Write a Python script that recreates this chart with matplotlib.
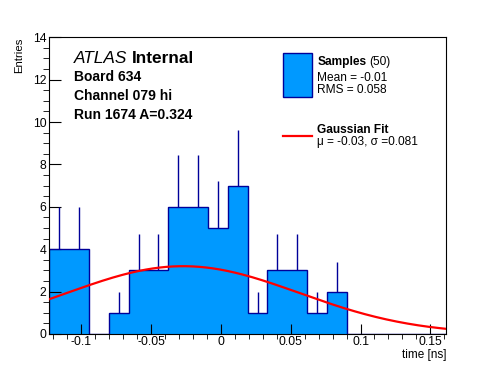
import matplotlib
matplotlib.use('Agg')
import matplotlib.pyplot as plt
import numpy as np
from matplotlib.patches import Rectangle
from matplotlib.lines import Line2D
from matplotlib.ticker import MultipleLocator

plt.rcParams['font.family'] = ['Liberation Sans', 'DejaVu Sans']
plt.rcParams['axes.unicode_minus'] = False

# Данные гистограммы (20 бинов на всю ось, последние пустые)
x_min = -0.1228
bin_width = 0.01420
counts = [4, 4, 0, 1, 3, 3, 6, 6, 5, 7, 1, 3, 3, 1, 2, 0, 0, 0, 0, 0]

# Параметры гауссова фита
fit_amp = 3.2
fit_mu = -0.027
fit_sigma = 0.083

fill_col = '#0099ff'
edge_col = '#000099'

counts = np.array(counts, dtype=float)
edges = x_min + bin_width * np.arange(len(counts) + 1)
centers = 0.5 * (edges[:-1] + edges[1:])

W, H = 496, 372
fig = plt.figure(figsize=(W / 100, H / 100), dpi=100)
ax = fig.add_axes([49.3 / W, 1 - 334 / H, (446 - 49.3) / W, (334 - 37.3) / H])

# гистограмма
ax.stairs(counts, edges, fill=True, color=fill_col, zorder=1)
ax.stairs(counts, edges, color=edge_col, lw=1, zorder=2)
nz = counts > 0
ax.vlines(centers[nz], counts[nz], counts[nz] + np.sqrt(counts[nz]),
          color=edge_col, lw=1, zorder=2)

# фит
xs = np.linspace(edges[0], edges[-1], 300)
ax.plot(xs, fit_amp * np.exp(-0.5 * ((xs - fit_mu) / fit_sigma) ** 2),
        color='red', lw=1.6, zorder=3)

ax.set_xlim(edges[0], edges[-1])
ax.set_ylim(0, 14)
ax.xaxis.set_major_locator(MultipleLocator(0.05))
ax.xaxis.set_minor_locator(MultipleLocator(0.01))
ax.yaxis.set_major_locator(MultipleLocator(2))
ax.yaxis.set_minor_locator(MultipleLocator(0.5))
ax.xaxis.set_major_formatter(plt.FuncFormatter(lambda v, p: '0' if abs(v) < 1e-9 else f'{v:g}'))
ax.tick_params(axis='both', direction='in', labelsize=8.8, width=0.8, top=False, right=False)
ax.tick_params(axis='x', which='major', length=7.2, pad=1.6)
ax.tick_params(axis='x', which='minor', length=3.6)
ax.tick_params(axis='y', which='major', length=8.6, pad=2)
ax.tick_params(axis='y', which='minor', length=4.3)
for s in ax.spines.values():
    s.set_linewidth(0.8)

fig.text(19 / W, 1 - 38 / H, 'Entries', rotation=90, ha='center', va='top', fontsize=8.2)
fig.text(446 / W, 1 - 358 / H, 'time [ns]', ha='right', va='baseline', fontsize=8.5)

# подписи ATLAS
atl = fig.text(74 / W, 1 - 63.3 / H, 'ATLAS', style='italic', fontsize=12.4, va='baseline')
fig.canvas.draw()
ax.annotate('Internal', xy=(1, 0), xycoords=atl, xytext=(3.5, 0), textcoords='offset points',
            fontsize=12.4, fontweight='bold', va='bottom')
fig.text(74 / W, 1 - 80.7 / H, 'Board 634', fontsize=10, fontweight='bold', va='baseline')
fig.text(74 / W, 1 - 100 / H, 'Channel 079 hi', fontsize=10, fontweight='bold', va='baseline')
fig.text(74 / W, 1 - 119 / H, 'Run 1674 A=0.324', fontsize=10, fontweight='bold', va='baseline')

# легенда
fig.add_artist(Rectangle((283.3 / W, 1 - 96.7 / H), 28.4 / W, 43.4 / H,
                         transform=fig.transFigure, facecolor=fill_col, edgecolor=edge_col, lw=1))
fig.add_artist(Line2D([283 / W, 312 / W], [1 - 135.7 / H] * 2, transform=fig.transFigure,
                      color='red', lw=1.6))
smp = fig.text(317.3 / W, 1 - 65 / H, 'Samples', fontsize=8.6, fontweight='bold', va='baseline')
fig.canvas.draw()
ax.annotate('(50)', xy=(1, 0), xycoords=smp, xytext=(2, 0), textcoords='offset points',
            fontsize=8.6, va='bottom')
fig.text(317.3 / W, 1 - 80.7 / H, 'Mean = -0.01', fontsize=8.6, va='baseline')
fig.text(317.3 / W, 1 - 93.3 / H, 'RMS = 0.058', fontsize=8.6, va='baseline')
fig.text(317.3 / W, 1 - 132.7 / H, 'Gaussian Fit', fontsize=8.6, fontweight='bold', va='baseline')
fig.text(317.3 / W, 1 - 145 / H, 'μ = -0.03, σ =0.081', fontsize=8.6, va='baseline')

fig.savefig('out.png', dpi=100)
